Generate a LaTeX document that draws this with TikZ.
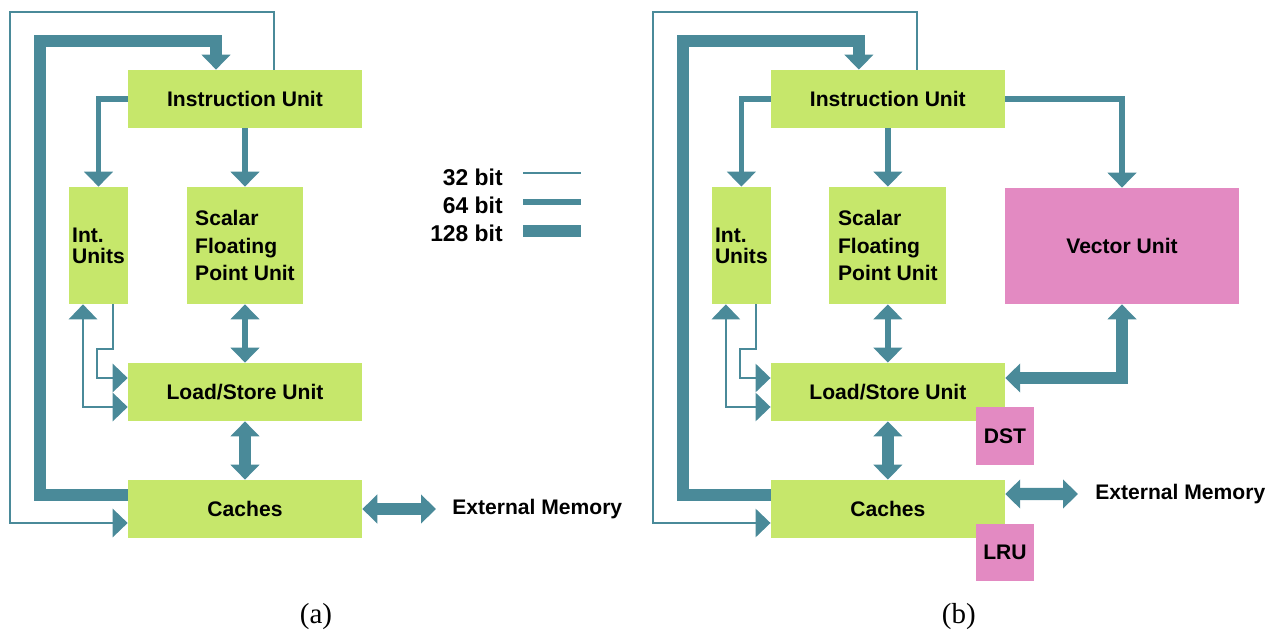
\documentclass[tikz,border=0pt]{standalone}
\usepackage{fontspec}
\setmainfont{Liberation Sans}
\newfontfamily\capfont{Liberation Serif}
\usetikzlibrary{arrows.meta}
\definecolor{unitgreen}{RGB}{198,231,107}
\definecolor{unitpink}{RGB}{227,138,194}
\definecolor{bus}{RGB}{74,138,153}

\tikzset{
  unit/.style={fill=unitgreen, font=\fontsize{12}{12}\selectfont\bfseries, inner sep=1pt},
  vecunit/.style={unit, fill=unitpink},
  label text/.style={font=\fontsize{12}{12}\selectfont\bfseries, inner ysep=0pt},
  key text/.style={font=\fontsize{13}{13}\selectfont\bfseries, inner sep=0pt, anchor=east},
  bus32/.style={draw=bus, line width=1.4pt},
  bus64/.style={draw=bus, line width=3.2pt},
  bus128/.style={draw=bus, line width=7pt},
  >={Triangle[width=16pt,length=8.5pt]}
}

\begin{document}
\begin{tikzpicture}[x=0.02cm, y=-0.02cm]
\useasboundingbox (0,0) rectangle (1276,635);

% both panels share the same core
\foreach \p/\dx/\lbl in {A/0cm/a, B/12.86cm/b}{
\begin{scope}[xshift=\dx]
\node[unit, minimum width=4.68cm, minimum height=1.16cm] (iu\p) at (245,99) {Instruction Unit};
\node[unit, minimum width=1.18cm, minimum height=2.34cm, align=left] (int\p) at (98.5,245.5) {Int.\\Units};
\node[unit, minimum width=2.34cm, minimum height=2.34cm, align=left, font=\fontsize{12}{15.6}\selectfont\bfseries] (fp\p) at (245,245.5) {Scalar\\Floating\\Point Unit};
\node[unit, minimum width=4.68cm, minimum height=1.16cm] (ls\p) at (245,392) {Load/Store Unit};
\node[unit, minimum width=4.68cm, minimum height=1.16cm] (ca\p) at (245,509) {Caches};
\node[font=\capfont\fontsize{16.5}{16.5}\selectfont] (cap\p) at (316,617) {(\lbl)};

\draw[bus32,->] ([xshift=0.58cm]iu\p.north) |- (10,12) |- ([yshift=-0.28cm]ca\p.west);
\draw[bus128,->] ([yshift=0.28cm]ca\p.west) -| (40,41) -| ([xshift=-0.58cm]iu\p.north);
\draw[bus64,->] (iu\p.west) -| (int\p.north);
\draw[bus64,->] (iu\p.south) -- (fp\p.north);
\draw[bus64,<->] (fp\p.south) -- (ls\p.north);
\draw[bus128,<->] (ls\p.south) -- (ca\p.north);
\draw[bus32,->] ([xshift=0.29cm]int\p.south) |- (97,349) |- ([yshift=0.28cm]ls\p.west);
\draw[bus32,<->] ([xshift=-0.31cm]int\p.south) |- ([yshift=-0.3cm]ls\p.west);
\end{scope}}

% panel (a): external memory and legend
\node[label text, anchor=west, inner xsep=0.32cm] (extA) at (436,509) {External Memory};
\draw[bus128,<->] (caA.east) -- (extA.west);

\node[key text] (k32) at (503,177) {32 bit};
\node[key text] (k64) at (503,205) {64 bit};
\node[key text] (k128) at (503,233) {128 bit};
\draw[bus32] (523,173) -- (581,173);
\draw[bus64] (523,202) -- (581,202);
\draw[bus128] (523,231) -- (581,231);

% panel (b): vector unit, DST, LRU
\node[vecunit, minimum width=4.68cm, minimum height=2.32cm] (vuB) at (1122,246) {Vector Unit};
\node[vecunit, minimum size=1.16cm] (dstB) at (1005,436) {DST};
\node[vecunit, minimum size=1.16cm] (lruB) at (1005,552.5) {LRU};
\draw[bus64,->] (iuB.east) -| (vuB.north);
\draw[bus128,<->] (vuB.south) |- ([yshift=0.28cm]lsB.east);

\node[label text, anchor=west, inner xsep=0.34cm] (extB) at (1078,494) {External Memory};
\draw[bus128,<->] ([yshift=0.3cm]caB.east) -- (extB.west);
\end{tikzpicture}
\end{document}
